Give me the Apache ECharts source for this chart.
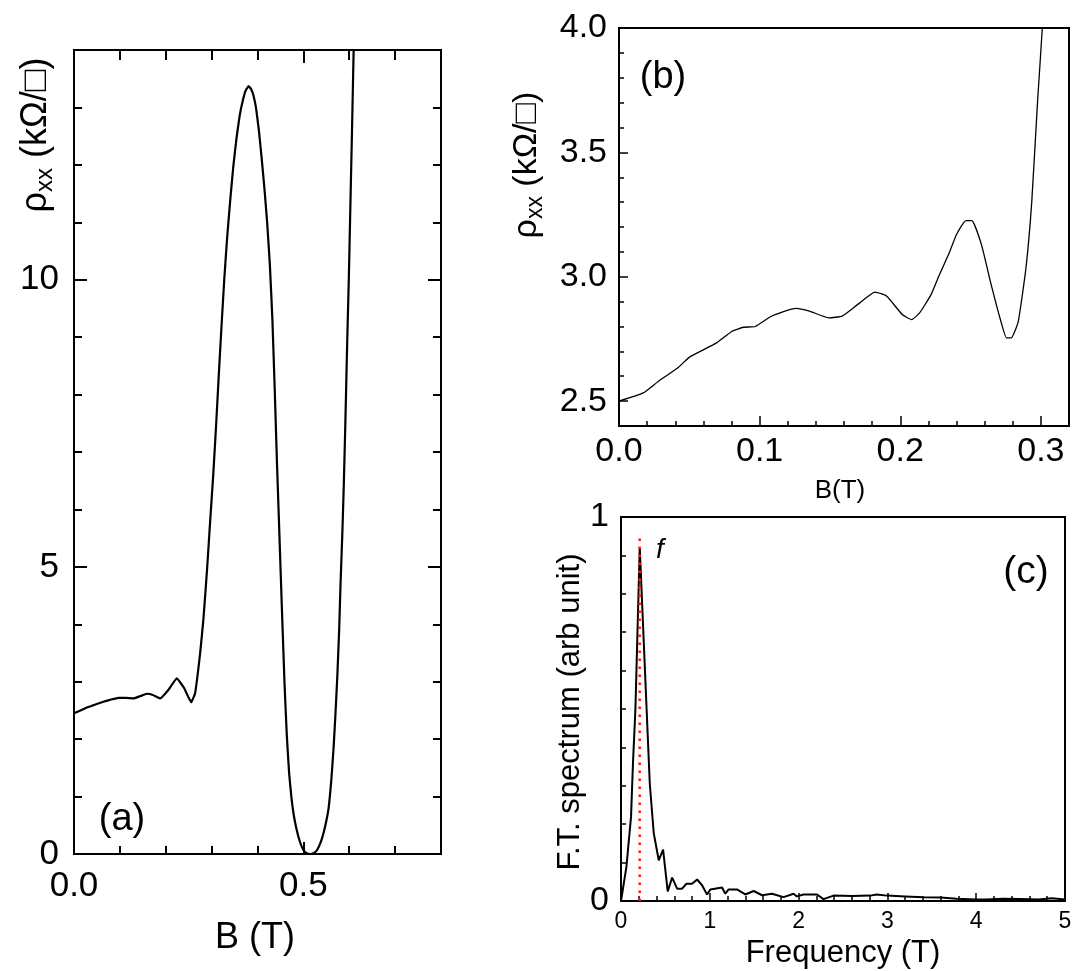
<!DOCTYPE html>
<html>
<head>
<meta charset="utf-8">
<script src="https://cdn.jsdelivr.net/npm/echarts@6/dist/echarts.min.js"></script>
<style>
html,body{margin:0;padding:0;background:#fff;}
#chart{width:1088px;height:971px;}
</style>
</head>
<body>
<div id="chart"></div>
<script>
// ---------- Panel (a): rho_xx vs B ----------
const aB   = [0, 0.028, 0.045, 0.064, 0.081, 0.097, 0.113, 0.13, 0.145, 0.159, 0.172, 0.188, 0.206, 0.224, 0.240, 0.2555, 0.264, 0.275, 0.282, 0.290, 0.297, 0.3035, 0.310, 0.316, 0.322, 0.3275, 0.334, 0.3406, 0.347, 0.354, 0.361, 0.368, 0.3745, 0.3806, 0.386, 0.3915, 0.397, 0.403, 0.409, 0.415, 0.421, 0.427, 0.4325, 0.4375, 0.4425, 0.448, 0.4535, 0.459, 0.464, 0.469, 0.474, 0.479, 0.486, 0.493, 0.500, 0.507, 0.515, 0.522, 0.529, 0.535, 0.541, 0.548, 0.555, 0.561, 0.566, 0.570, 0.574, 0.578, 0.581, 0.585, 0.588, 0.5915, 0.5955, 0.599, 0.6025, 0.606, 0.6096, 0.613];
const aRho = [2.45, 2.55, 2.60, 2.65, 2.69, 2.72, 2.72, 2.71, 2.75, 2.79, 2.77, 2.71, 2.86, 3.06, 2.89, 2.64, 2.80, 3.50, 4.08, 4.95, 5.82, 6.60, 7.50, 8.40, 9.25, 10.0, 10.75, 11.39, 11.95, 12.45, 12.85, 13.12, 13.30, 13.37, 13.32, 13.20, 12.98, 12.60, 12.12, 11.60, 11.00, 10.25, 9.30, 8.10, 6.80, 5.50, 4.20, 2.95, 2.05, 1.40, 0.98, 0.68, 0.40, 0.20, 0.07, 0.015, 0.0, 0.015, 0.06, 0.15, 0.28, 0.50, 0.80, 1.30, 1.87, 2.45, 3.10, 3.90, 4.70, 5.60, 6.40, 7.50, 8.90, 10.0, 11.3, 12.6, 14.0, 15.3];
const aXLabels = [0, 0.5];
const aXMinor  = [0.1, 0.2, 0.3, 0.4, 0.6, 0.7];
const aXMajor  = [0.5];
const aYLabels = [0, 5, 10];
const aYMinor  = [1, 2, 3, 4, 6, 7, 8, 9, 11, 12, 13];
const aYMajor  = [5, 10];

// ---------- Panel (b): low-field zoom ----------
const bB   = [0, 0.0172, 0.0281, 0.0419, 0.0501, 0.0694, 0.0804, 0.0886, 0.0969, 0.1079, 0.117, 0.1258, 0.1354, 0.1491, 0.1587, 0.1698, 0.1821, 0.1904, 0.2014, 0.2082, 0.2138, 0.2220, 0.228, 0.2344, 0.240, 0.2467, 0.2509, 0.2577, 0.2646, 0.2715, 0.2756, 0.2789, 0.2839, 0.2894, 0.2935, 0.2977, 0.3009, 0.3030];
const bRho = [2.50, 2.533, 2.58, 2.634, 2.677, 2.734, 2.781, 2.797, 2.80, 2.84, 2.86, 2.873, 2.862, 2.835, 2.842, 2.889, 2.938, 2.922, 2.848, 2.828, 2.855, 2.929, 3.01, 3.09, 3.17, 3.226, 3.226, 3.13, 2.969, 2.822, 2.754, 2.754, 2.82, 3.036, 3.30, 3.71, 3.99, 4.3];
const bXLabels = [0, 0.1, 0.2, 0.3];
const bXMinor  = [0.02, 0.04, 0.06, 0.08, 0.12, 0.14, 0.16, 0.18, 0.22, 0.24, 0.26, 0.28, 0.32];
const bXMajor  = [0.1, 0.2, 0.3];
const bYLabels = [2.5, 3.0, 3.5, 4.0];
const bYMinor  = [2.6, 2.7, 2.8, 2.9, 3.1, 3.2, 3.3, 3.4, 3.6, 3.7, 3.8, 3.9];
const bYMajor  = [2.5, 3.0, 3.5];

// ---------- Panel (c): Fourier spectrum ----------
const cF = [0, 0.061, 0.113, 0.135, 0.162, 0.211, 0.324, 0.369, 0.425, 0.474, 0.526, 0.576, 0.632, 0.688, 0.737, 0.80, 0.857, 0.913, 0.969, 1.006, 1.138, 1.175, 1.212, 1.306, 1.40, 1.494, 1.588, 1.70, 1.831, 1.944, 1.98, 2.057, 2.207, 2.28, 2.394, 2.60, 2.807, 2.88, 2.995, 3.2, 3.407, 3.6, 3.78, 4.0, 4.11, 4.3, 4.5, 4.7, 4.85, 5.0];
const cA = [0, 0.089, 0.219, 0.36, 0.497, 0.921, 0.306, 0.176, 0.106, 0.134, 0.025, 0.061, 0.032, 0.032, 0.045, 0.045, 0.056, 0.041, 0.017, 0.030, 0.035, 0.019, 0.030, 0.030, 0.017, 0.026, 0.015, 0.019, 0.010, 0.019, 0.012, 0.017, 0.017, 0.005, 0.014, 0.013, 0.014, 0.017, 0.014, 0.012, 0.010, 0.009, 0.006, 0.004, 0.004, 0.006, 0.005, 0.004, 0.007, 0.004];
const cMarkF = [0.21, 0.21];
const cMarkA = [0, 0.955];
const cXLabels = [0, 1, 2, 3, 4, 5];
const cXMinor  = [0.2, 0.4, 0.6, 0.8, 1.2, 1.4, 1.6, 1.8, 2.2, 2.4, 2.6, 2.8, 3.2, 3.4, 3.6, 3.8, 4.2, 4.4, 4.6, 4.8];
const cXMajor  = [1, 2, 3, 4];
const cYLabels = [0, 1];
const cYMinor  = [0.1, 0.2, 0.3, 0.4, 0.5, 0.6, 0.7, 0.8, 0.9];

const FONT = '"Liberation Sans", Arial, Helvetica, sans-serif';

const grids = [
  {left: 74,  top: 50,  width: 367, height: 804},
  {left: 619, top: 28,  width: 450, height: 398},
  {left: 621, top: 517, width: 444, height: 384}
].map(g => Object.assign(g, {show: true, borderColor: '#000', borderWidth: 2, backgroundColor: 'transparent', containLabel: false, outerBoundsMode: 'none'}));

const xAxes = [], yAxes = [];
function axis(list, o) {
  const def = {
    type: 'value', gridIndex: o.grid, position: o.pos, min: o.min, max: o.max,
    axisLine: {show: false, onZero: false},
    splitLine: {show: false},
    minorTick: {show: false},
    axisTick: {show: true, inside: true, length: o.len, customValues: o.ticks,
               lineStyle: {color: '#000', width: o.tw || 1.5}},
    axisLabel: o.labels ? {show: true, customValues: o.labels, formatter: o.fmt,
               fontSize: o.fs, fontFamily: FONT, color: '#000', margin: o.margin} : {show: false}
  };
  list.push(def);
  return list.length - 1;
}
const fmt1 = v => Number(v).toFixed(1);
const fmt0 = v => String(Math.round(v));

// (a)
const ax = axis(xAxes, {grid: 0, pos: 'bottom', min: 0, max: 0.8, ticks: aXMinor, len: 8, labels: aXLabels, fmt: fmt1, fs: 35, margin: 15, tw: 2});
axis(xAxes, {grid: 0, pos: 'bottom', min: 0, max: 0.8, ticks: aXMajor, len: 12, tw: 2});
axis(xAxes, {grid: 0, pos: 'top', min: 0, max: 0.8, ticks: aXMinor, len: 10, tw: 2});
axis(xAxes, {grid: 0, pos: 'top', min: 0, max: 0.8, ticks: aXMajor, len: 13, tw: 2});
const ay = axis(yAxes, {grid: 0, pos: 'left', min: 0, max: 14, ticks: aYMinor, len: 8, labels: aYLabels, fmt: fmt0, fs: 35, margin: 15, tw: 2});
axis(yAxes, {grid: 0, pos: 'left', min: 0, max: 14, ticks: aYMajor, len: 13, tw: 2});
axis(yAxes, {grid: 0, pos: 'right', min: 0, max: 14, ticks: aYMinor, len: 8, tw: 2});
axis(yAxes, {grid: 0, pos: 'right', min: 0, max: 14, ticks: aYMajor, len: 13, tw: 2});
// (b)
const bx = axis(xAxes, {grid: 1, pos: 'bottom', min: 0, max: 0.32, ticks: bXMinor, len: 5, labels: bXLabels, fmt: fmt1, fs: 34, margin: 9});
axis(xAxes, {grid: 1, pos: 'bottom', min: 0, max: 0.32, ticks: bXMajor, len: 10});
const by = axis(yAxes, {grid: 1, pos: 'left', min: 2.4, max: 4.0, ticks: bYMinor, len: 5, labels: bYLabels, fmt: fmt1, fs: 34, margin: 12});
axis(yAxes, {grid: 1, pos: 'left', min: 2.4, max: 4.0, ticks: bYMajor, len: 9});
// (c)
const cx = axis(xAxes, {grid: 2, pos: 'bottom', min: 0, max: 5, ticks: cXMinor, len: 5, labels: cXLabels, fmt: fmt0, fs: 23, margin: 9});
axis(xAxes, {grid: 2, pos: 'bottom', min: 0, max: 5, ticks: cXMajor, len: 8});
const cy = axis(yAxes, {grid: 2, pos: 'left', min: 0, max: 1, ticks: cYMinor, len: 5, labels: cYLabels, fmt: fmt0, fs: 34, margin: 12});

function pairs(xs, ys) { return xs.map((x, i) => [x, ys[i]]); }

function txt(x, y, text, fs, opts) {
  opts = opts || {};
  return {
    type: 'text', x: x, y: y, rotation: opts.rot || 0, silent: true, z: 10,
    style: Object.assign({
      text: text, fontSize: fs, fontFamily: FONT, fill: '#000',
      align: 'center', verticalAlign: 'middle', textAlign: 'center', textVerticalAlign: 'middle',
      fontStyle: opts.italic ? 'italic' : 'normal'
    }, opts.rich ? {rich: opts.rich} : {})
  };
}
function rhoRich(main, sub) {
  return {
    r: {fontSize: main, fontFamily: FONT, fill: '#000', lineHeight: main + 6},
    s: {fontSize: sub, fontFamily: FONT, fill: '#000', lineHeight: sub, verticalAlign: 'bottom'}
  };
}
const rhoText = '{r|ρ}{s|xx}{r| (kΩ/□)}';

const option = {
  animation: false,
  backgroundColor: '#fff',
  grid: grids,
  xAxis: xAxes,
  yAxis: yAxes,
  series: [
    {type: 'line', xAxisIndex: ax, yAxisIndex: ay, data: pairs(aB, aRho), symbol: 'none', showSymbol: false,
     smooth: 0.1, clip: true, silent: true, lineStyle: {color: '#000', width: 2.2}},
    {type: 'line', xAxisIndex: bx, yAxisIndex: by, data: pairs(bB, bRho), symbol: 'none', showSymbol: false,
     smooth: 0.15, clip: true, silent: true, lineStyle: {color: '#000', width: 1.3}},
    {type: 'line', xAxisIndex: cx, yAxisIndex: cy, data: pairs(cMarkF, cMarkA), symbol: 'none', showSymbol: false,
     clip: true, silent: true, z: 3, lineStyle: {color: '#ff1a1a', width: 2.6, type: [2.5, 5.5]}},
    {type: 'line', xAxisIndex: cx, yAxisIndex: cy, data: pairs(cF, cA), symbol: 'none', showSymbol: false,
     clip: true, silent: true, z: 2, lineStyle: {color: '#000', width: 2}}
  ],
  graphic: [
    txt(36, 135, rhoText, 36, {rot: Math.PI / 2, rich: rhoRich(36, 24)}),
    txt(255, 938, 'B (T)', 36),
    txt(122, 820, '(a)', 38),
    txt(527, 165, rhoText, 34, {rot: Math.PI / 2, rich: rhoRich(34, 23)}),
    txt(840, 491, 'B(T)', 26),
    txt(663, 78, '(b)', 38),
    txt(570, 712, 'F.T. spectrum (arb unit)', 31, {rot: Math.PI / 2}),
    txt(843, 953, 'Frequency (T)', 31),
    txt(1026, 572, '(c)', 39),
    txt(660, 550, 'f', 28, {italic: true})
  ]
};

const chart = echarts.init(document.getElementById('chart'), null, {renderer: 'canvas'});
chart.setOption(option);
</script>
</body>
</html>
